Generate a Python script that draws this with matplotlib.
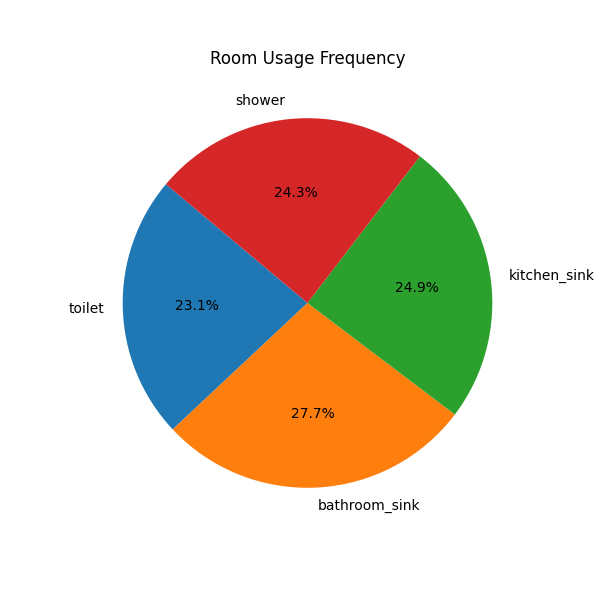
import matplotlib
matplotlib.use('Agg')
import matplotlib.pyplot as plt

rooms = ['toilet', 'bathroom_sink', 'kitchen_sink', 'shower']
usage = [23.1, 27.7, 24.9, 24.3]

fig, ax = plt.subplots(figsize=(6, 6), dpi=100)
ax.pie(usage, labels=rooms, autopct='%1.1f%%', startangle=140)
ax.set_title('Room Usage Frequency')
plt.savefig('out.png')
